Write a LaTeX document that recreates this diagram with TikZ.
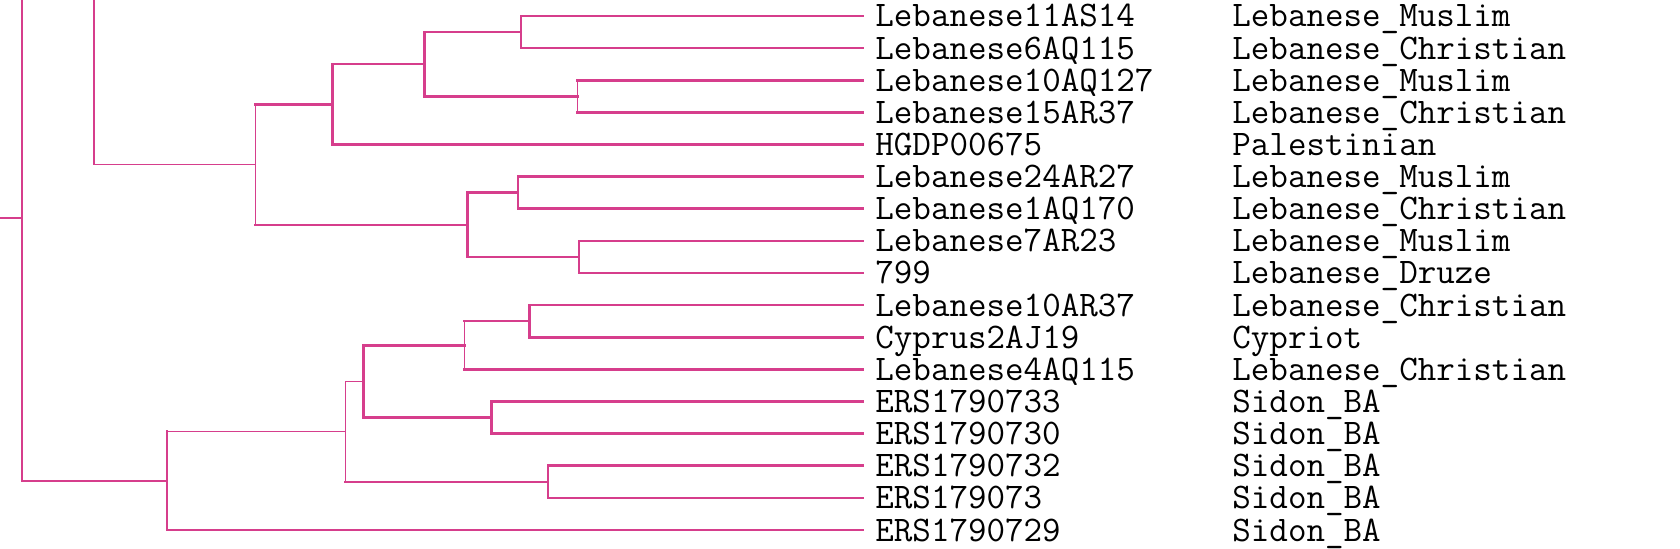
\documentclass[tikz,border=0pt]{standalone}
\definecolor{treepink}{RGB}{214,62,140}

\begin{document}
\begin{tikzpicture}[x=0.5pt,y=-0.5pt,font=\fontsize{18}{20}\selectfont\ttfamily,
  branch/.style={draw=treepink,line width=1.3pt,line cap=rect},
  twig/.style={draw=treepink,line width=0.65pt,line cap=rect},
  sample/.style={anchor=west,inner xsep=6pt,inner ysep=0pt,text height=0.62em,text depth=0.2em,yshift=-3.4pt}]
\path[use as bounding box] (0,0) rectangle (1680,549);
\clip (0,0) rectangle (1680,549);
% leaf ends, labels and groups
\foreach \i/\s/\g in {0/Lebanese11AS14/Lebanese\_Muslim,1/Lebanese6AQ115/Lebanese\_Christian,
  2/Lebanese10AQ127/Lebanese\_Muslim,3/Lebanese15AR37/Lebanese\_Christian,
  4/HGDP00675/Palestinian,5/Lebanese24AR27/Lebanese\_Muslim,
  6/Lebanese1AQ170/Lebanese\_Christian,7/Lebanese7AR23/Lebanese\_Muslim,
  8/799/Lebanese\_Druze,9/Lebanese10AR37/Lebanese\_Christian,
  10/Cyprus2AJ19/Cypriot,11/Lebanese4AQ115/Lebanese\_Christian,
  12/ERS1790733/Sidon\_BA,13/ERS1790730/Sidon\_BA,14/ERS1790732/Sidon\_BA,
  15/ERS179073/Sidon\_BA,16/ERS1790729/Sidon\_BA} {
  \coordinate (t\i) at (863,{16+32.125*\i});
  \node[sample] (s\i) at (t\i) {\s};
  \node[sample] (g\i) at (1220,{16+32.125*\i}) {\g};
}
% inner nodes
\coordinate (d) at (521,32.06);
\coordinate (e) at (577.5,96.31);
\coordinate (c) at (424.4,64.19);
\coordinate (b) at (332.6,104.34);
\coordinate (g) at (518,192.69);
\coordinate (h) at (579,256.94);
\coordinate (f) at (467.3,224.81);
\coordinate (a) at (255.3,164.58);
\coordinate (p) at (94,-30);
\coordinate (m) at (529.3,321.19);
\coordinate (l) at (464.6,345.28);
\coordinate (n) at (491.4,417.56);
\coordinate (k) at (363.6,381.42);
\coordinate (o) at (548,481.81);
\coordinate (j) at (345.2,431.62);
\coordinate (i) at (167,480.81);
\coordinate (root) at (21.8,218);
\coordinate (rootup) at (21.8,-44.8);
\coordinate (stem) at (-10,218);
% upper clade
\draw[twig]   (t0 -| d) -- (t1 -| d);
\draw[branch] (t0 -| d) -- (t0) (t1 -| d) -- (t1);
\draw[twig]   (t2 -| e) -- (t3 -| e);
\draw[branch] (t2 -| e) -- (t2) (t3 -| e) -- (t3);
\draw[branch] (d) -| (c) |- (e);
\draw[branch] (c) -| (b) |- (t4);
\draw[branch] (t5) -| (g) |- (t6);
\draw[branch] (t7) -| (h) |- (t8);
\draw[branch] (g) -| (f) |- (h);
\draw[twig]   (b -| a) -- (f -| a);
\draw[branch] (b -| a) -- (b) (f -| a) -- (f);
\draw[twig]   (p) |- (a);
% lower clade
\draw[branch] (t9) -| (m) |- (t10);
\draw[twig]   (m -| l) -- (t11 -| l);
\draw[branch] (m -| l) -- (m) (t11 -| l) -- (t11);
\draw[branch] (t12) -| (n) |- (t13);
\draw[branch] (l) -| (k) |- (n);
\draw[branch] (t14) -| (o) |- (t15);
\draw[twig]   (k -| j) -- (o -| j) (k -| j) -- (k);
\draw[branch] (o -| j) -- (o);
\draw[branch] (j -| i) -- (t16 -| i) -- (t16);
\draw[twig]   (j -| i) -- (j);
% root
\draw[branch] (rootup) -- (i -| root) -- (i);
\draw[branch] (stem) -- (root);
\end{tikzpicture}
\end{document}
